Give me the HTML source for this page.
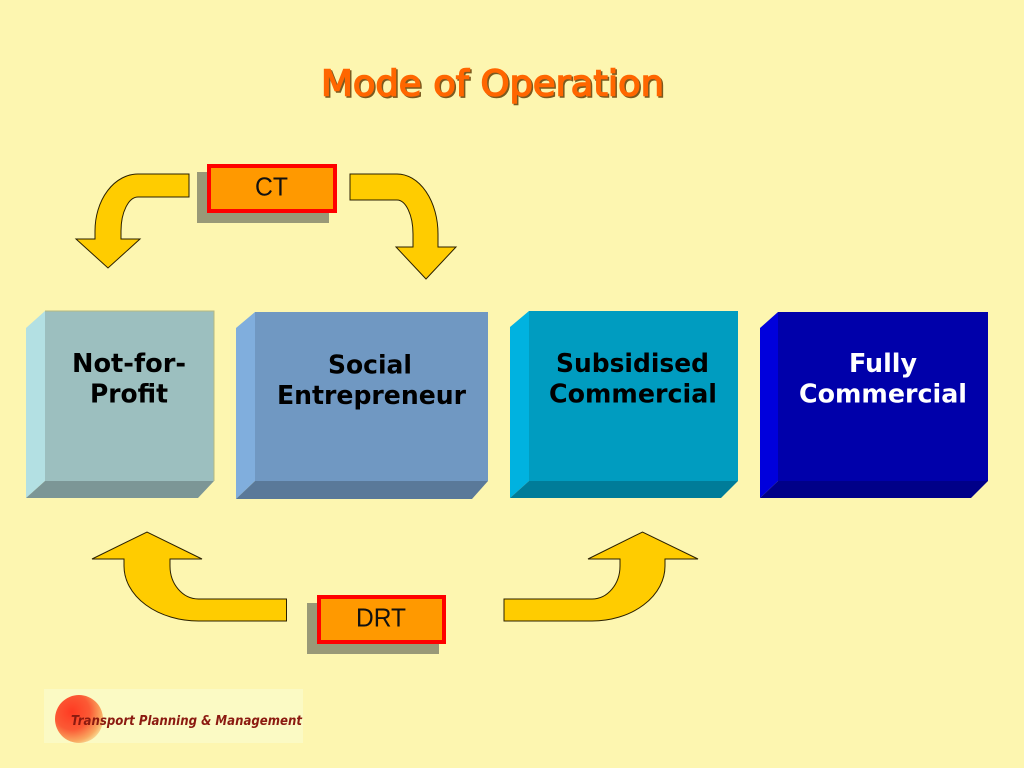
<!DOCTYPE html>
<html lang="en">
<head>
<meta charset="utf-8">
<title>Mode of Operation</title>
<style>
html,body{margin:0;padding:0;background:#fdf6b0;}
svg{display:block;}
</style>
</head>
<body>
<svg xmlns="http://www.w3.org/2000/svg" width="1024" height="768" viewBox="0 0 1024 768">
<defs>
<radialGradient id="ball" cx="0.35" cy="0.35" r="0.75">
<stop offset="0" stop-color="#ff3a22"/>
<stop offset="0.5" stop-color="#fb5a35"/>
<stop offset="0.82" stop-color="#f9a860"/>
<stop offset="1" stop-color="#f9e6a0"/>
</radialGradient>
</defs>
<rect width="1024" height="768" fill="#fdf6b0"/>

<!-- Title -->
<g font-family="'DejaVu Sans',sans-serif" font-size="36">
<text x="322.5" y="97" textLength="343" lengthAdjust="spacingAndGlyphs" fill="#7a5a20" stroke="#7a5a20" stroke-width="1.5">Mode of Operation</text>
<text x="321" y="95.5" textLength="343" lengthAdjust="spacingAndGlyphs" fill="#ff6600" stroke="#ff6600" stroke-width="1.5">Mode of Operation</text>
</g>

<!-- Curved arrows -->
<g fill="#ffcc00" stroke="#2a2000" stroke-width="1" stroke-linejoin="miter">
<path d="M189,174 H138 A43,57 0 0 0 95,231 V239 H76 L108,268 L140,239 H121 V231 A17,34 0 0 1 138,197 H189 Z"/>
<path d="M350,174 H397 A41,60 0 0 1 438,234 V247 H456 L426,279 L396,247 H413 V234 A16,34 0 0 0 397,200 H350 Z"/>
<path d="M286.5,599 H198.5 A28.5,33 0 0 1 170,566 V559 H202 L147,532 L92,559 H124 V566 A74.5,55 0 0 0 198.5,621 H286.5 Z"/>
<path d="M504,599 H592 A28,33 0 0 0 620,566 V559 H588 L642.5,532 L698,559 H665 V566 A73,55 0 0 1 592,621 H504 Z"/>
</g>

<!-- CT -->
<rect x="197" y="172" width="132" height="51" fill="#999977"/>
<rect x="209" y="166" width="126" height="45" fill="#ff9900" stroke="#ff0000" stroke-width="4"/>
<text x="255" y="195.5" font-family="'Liberation Sans',sans-serif" font-size="26" textLength="33" lengthAdjust="spacingAndGlyphs" fill="#111">CT</text>

<!-- DRT -->
<rect x="307" y="603" width="132" height="51" fill="#999977"/>
<rect x="319" y="597" width="125" height="45" fill="#ff9900" stroke="#ff0000" stroke-width="4"/>
<text x="356" y="626.5" font-family="'Liberation Sans',sans-serif" font-size="26" textLength="50" lengthAdjust="spacingAndGlyphs" fill="#111">DRT</text>

<!-- Box 1 -->
<rect x="45" y="311" width="169" height="170" fill="#9cbfbf"/>
<polygon points="26,328 45,311 45,481 26,498" fill="#b3e0e3"/>
<polygon points="26,498 45,481 214,481 198,498" fill="#7c9696"/>
<path d="M45,311 H214 V481" fill="none" stroke="#b5b880" stroke-width="1"/>

<!-- Box 2 -->
<rect x="255" y="312" width="233" height="169" fill="#7098c2"/>
<polygon points="236,328 255,312 255,481 236,499" fill="#80aedd"/>
<polygon points="236,499 255,481 488,481 472,499" fill="#5a7999"/>

<!-- Box 3 -->
<rect x="529" y="311" width="209" height="170" fill="#009cc0"/>
<polygon points="510,327 529,311 529,481 510,498" fill="#00b2e0"/>
<polygon points="510,498 529,481 738,481 721,498" fill="#007c99"/>

<!-- Box 4 -->
<rect x="778" y="312" width="210" height="169" fill="#0000aa"/>
<polygon points="760,328 778,312 778,481 760,498" fill="#0000dc"/>
<polygon points="760,498 778,481 988,481 971,498" fill="#000088"/>

<!-- Box labels -->
<g font-family="'DejaVu Sans',sans-serif" font-weight="bold" font-size="26" fill="#000">
<text x="72" y="372" textLength="114" lengthAdjust="spacingAndGlyphs">Not-for-</text>
<text x="90" y="402.5" textLength="78" lengthAdjust="spacingAndGlyphs">Profit</text>
<text x="328" y="373.5" textLength="84" lengthAdjust="spacingAndGlyphs">Social</text>
<text x="277" y="404" textLength="189" lengthAdjust="spacingAndGlyphs">Entrepreneur</text>
<text x="556" y="372" textLength="153" lengthAdjust="spacingAndGlyphs">Subsidised</text>
<text x="549" y="402.5" textLength="168" lengthAdjust="spacingAndGlyphs">Commercial</text>
<text x="849" y="372" textLength="68" lengthAdjust="spacingAndGlyphs" fill="#fff">Fully</text>
<text x="799" y="402.5" textLength="168" lengthAdjust="spacingAndGlyphs" fill="#fff">Commercial</text>
</g>

<!-- Logo -->
<rect x="44" y="689" width="259" height="54" fill="#fbfac4"/>
<circle cx="79" cy="719" r="24" fill="url(#ball)"/>
<text x="71" y="725" font-family="'DejaVu Sans',sans-serif" font-weight="bold" font-style="italic" font-size="13.5" textLength="231" lengthAdjust="spacingAndGlyphs" fill="#8b1a10">Transport Planning &amp; Management</text>
</svg>
</body>
</html>
